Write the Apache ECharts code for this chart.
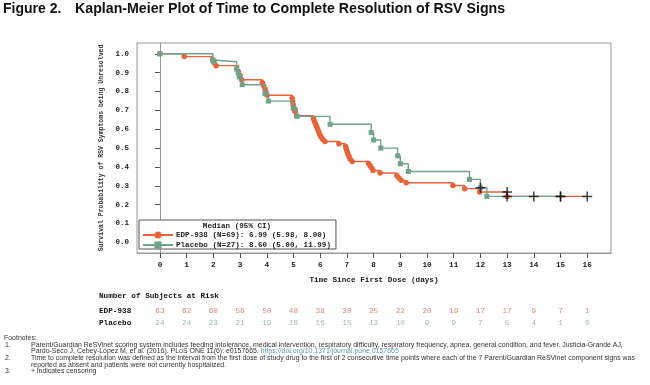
<!DOCTYPE html>
<html><head><meta charset="utf-8">
<script src="https://cdn.jsdelivr.net/npm/echarts@6/dist/echarts.min.js"></script>
<style>html,body{margin:0;padding:0;background:#fff}#c{width:650px;height:385px}</style>
</head><body><div id="c"></div>
<script>
// ---- data ----
const xTicks = [0,1,2,3,4,5,6,7,8,9,10,11,12,13,14,15,16];
const yTicks = [0,0.1,0.2,0.3,0.4,0.5,0.6,0.7,0.8,0.9,1.0];
const groups = ['EDP-938','Placebo'];
const legendLabels = ['EDP-938 (N=69): 6.99 (5.98, 8.00)', 'Placebo (N=27): 8.60 (5.00, 11.99)'];

const edpTime = [0,0.91,1.97,2.02,2.1,2.94,3.0,3.06,3.83,3.88,3.93,3.97,4.01,4.95,4.97,4.99,5.02,5.05,5.12,
  5.75,5.79,5.83,5.87,5.91,5.95,5.99,6.04,6.1,6.18,6.7,6.95,6.98,7.01,7.04,7.08,7.12,7.2,
  7.81,7.87,7.93,7.98,8.24,8.87,8.95,9.03,9.22,10.97,11.41,11.97,13.0];
const edpSurv = [1.0,0.985,0.97,0.954,0.937,0.906,0.885,0.862,0.848,0.832,0.815,0.797,0.78,0.764,0.747,0.73,0.712,0.695,0.672,
  0.655,0.641,0.627,0.613,0.598,0.584,0.57,0.558,0.546,0.535,0.523,0.509,0.495,0.482,0.469,0.456,0.442,0.429,
  0.418,0.406,0.394,0.381,0.368,0.353,0.341,0.329,0.316,0.302,0.285,0.267,0.244];
const edpEnd = 16;

const placeboTime = [0,1.98,2.02,2.87,2.93,2.97,3.08,3.93,4.06,4.99,5.14,6.37,7.91,8.0,8.27,8.9,9.0,9.3,11.59,12.0,12.24];
const placeboSurv = [1.0,0.967,0.958,0.92,0.898,0.877,0.836,0.79,0.749,0.711,0.668,0.626,0.583,0.543,0.5,0.459,0.417,0.376,0.334,0.29,0.244];
const placeboEnd = 15;

const edpCensorTime = [13,15,16];
const edpCensorSurv = [0.267,0.244,0.244];
const placeboCensorTime = [12,13,14,15];
const placeboCensorSurv = [0.29,0.244,0.244,0.244];

const edpAtRisk = [63,62,60,56,50,48,38,30,25,22,20,19,17,17,9,7,1];
const placeboAtRisk = [24,24,23,21,19,18,16,15,13,10,9,9,7,5,4,1,0];

const footnotes = [
  ['Footnotes:', ''],
  ['1.', 'Parent/Guardian ReSVinet scoring system includes feeding intolerance, medical intervention, respiratory difficulty, respiratory frequency, apnea, general condition, and fever. Justicia-Grande AJ,'],
  ['', 'Pardo-Seco J, Cebey-L\u00f3pez M, et al. (2016). PLoS ONE 11(6): e0157665. {u|https://doi.org/10.1371/journal.pone.0157665}'],
  ['2.', 'Time to complete resolution was defined as the interval from the first dose of study drug to the first of 2 consecutive time points where each of the 7 Parent/Guardian ReSVinet component signs was'],
  ['', 'reported as absent and patients were not currently hospitalized.'],
  ['3.', '+ indicates censoring']
];

// ---- styles ----
const ORANGE = '#e8633a', GREEN = '#6fa38a';
const MONO = '"Liberation Mono","DejaVu Sans Mono",monospace';
const SANS = '"Liberation Sans",Arial,sans-serif';
const XMIN = -0.86, XMAX = 16.89, YMIN = -0.056, YMAX = 1.057;
const FN = 6.95;

function curve(t, s, end) {
  const d = t.map((x, i) => [x, s[i]]);
  d.push({ value: [end, s[s.length - 1]], symbol: 'none' });
  return d;
}
function pts(t, s) { return t.map((x, i) => [x, s[i]]); }
const CROSS = 'path://M-0.9,-6H0.9V6H-0.9Z M-6,-0.9H6V0.9H-6Z';

const fnGraphics = [];
footnotes.forEach((f, i) => {
  const y = 338 + i * 6.7;
  if (i === 0) {
    fnGraphics.push({ type: 'text', x: 4, y: y, style: { text: f[0], font: FN + 'px ' + SANS, fill: '#333', verticalAlign: 'middle' } });
  } else {
    if (f[0]) fnGraphics.push({ type: 'text', x: 5, y: y, style: { text: f[0], font: FN + 'px ' + SANS, fill: '#333', verticalAlign: 'middle' } });
    fnGraphics.push({ type: 'text', x: 31, y: y, style: { text: f[1], font: FN + 'px ' + SANS, fill: '#333', verticalAlign: 'middle',
      rich: { u: { fontSize: FN, fontFamily: SANS, fill: '#5a9aa8' } } } });
  }
});

const chart = echarts.init(document.getElementById('c'), null, { renderer: 'canvas' });
chart.setOption({
  backgroundColor: '#fff',
  animation: false,
  grid: [
    { left: 137, right: 39, top: 43, height: 210, show: true, borderColor: '#999', borderWidth: 1 },
    { left: 137, right: 39, top: 305, height: 24 }
  ],
  xAxis: [
    { type: 'value', gridIndex: 0, min: XMIN, max: XMAX,
      name: 'Time Since First Dose (days)', nameLocation: 'middle', nameGap: 23,
      nameTextStyle: { fontFamily: MONO, fontSize: 7.7, fontWeight: 'bold', color: '#222' },
      axisLine: { show: true, onZero: false, lineStyle: { color: '#999' } },
      axisTick: { show: true, length: 5, customValues: xTicks, lineStyle: { color: '#555' } },
      axisLabel: { customValues: xTicks, margin: 8, fontFamily: MONO, fontSize: 7.7, fontWeight: 'bold', color: '#222', formatter: v => String(v) },
      splitLine: { show: false } },
    { type: 'value', gridIndex: 1, min: XMIN, max: XMAX, show: false }
  ],
  yAxis: [
    { type: 'value', gridIndex: 0, min: YMIN, max: YMAX,
      name: 'Survival Probability of RSV Symptoms being Unresolved', nameLocation: 'middle', nameGap: 31, nameRotate: 90,
      nameTextStyle: { fontFamily: MONO, fontSize: 6.5, fontWeight: 'bold', color: '#333' },
      axisLine: { show: true, lineStyle: { color: '#999' } },
      axisTick: { show: true, length: 5, customValues: yTicks, lineStyle: { color: '#555' } },
      axisLabel: { customValues: yTicks, margin: 8, fontFamily: MONO, fontSize: 7.5, fontWeight: 'bold', color: '#222', formatter: v => v.toFixed(1) },
      splitLine: { show: false } },
    { type: 'category', gridIndex: 1, data: groups, inverse: true,
      axisLine: { show: false }, axisTick: { show: false },
      axisLabel: { align: 'left', margin: 38, fontFamily: MONO, fontSize: 7.7, fontWeight: 'bold', color: '#111' } }
  ],
  legend: {
    data: groups, orient: 'vertical', left: 139, top: 220,
    padding: [11, 5, 0, 3], itemGap: 2, itemWidth: 30, itemHeight: 9,
    borderColor: '#555', borderWidth: 1, backgroundColor: '#fff',
    textStyle: { fontFamily: MONO, fontSize: 7.6, fontWeight: 'bold', color: '#222', padding: [0, 0, 0, -2] },
    formatter: n => legendLabels[groups.indexOf(n)]
  },
  series: [
    { name: groups[0], type: 'line', step: 'end', xAxisIndex: 0, yAxisIndex: 0,
      data: curve(edpTime, edpSurv, edpEnd), symbol: 'circle', symbolSize: 5.5, showAllSymbol: true,
      lineStyle: { color: ORANGE, width: 1.4 }, itemStyle: { color: ORANGE }, z: 2 },
    { name: groups[1], type: 'line', step: 'end', xAxisIndex: 0, yAxisIndex: 0,
      data: curve(placeboTime, placeboSurv, placeboEnd), symbol: 'rect', symbolSize: 5, showAllSymbol: true,
      lineStyle: { color: GREEN, width: 1.4 }, itemStyle: { color: GREEN }, z: 3 },
    { name: 'EDP censor', type: 'scatter', data: pts(edpCensorTime, edpCensorSurv), symbol: CROSS, symbolSize: 10,
      itemStyle: { color: '#111' }, z: 5 },
    { name: 'Placebo censor', type: 'scatter', data: pts(placeboCensorTime, placeboCensorSurv), symbol: CROSS, symbolSize: 10,
      itemStyle: { color: '#111' }, z: 5 },
    { name: 'EDP risk', type: 'scatter', xAxisIndex: 1, yAxisIndex: 1,
      data: xTicks.map((t, i) => [t, groups[0], edpAtRisk[i]]), symbolSize: 1, itemStyle: { color: 'rgba(0,0,0,0)' },
      label: { show: true, position: 'inside', formatter: p => String(p.value[2]), fontFamily: MONO, fontSize: 7.7, color: '#cf6a4c' } },
    { name: 'Placebo risk', type: 'scatter', xAxisIndex: 1, yAxisIndex: 1,
      data: xTicks.map((t, i) => [t, groups[1], placeboAtRisk[i]]), symbolSize: 1, itemStyle: { color: 'rgba(0,0,0,0)' },
      label: { show: true, position: 'inside', formatter: p => String(p.value[2]), fontFamily: MONO, fontSize: 7.7, color: '#84a796' } }
  ],
  graphic: [
    { type: 'text', x: 3, y: 9, style: { text: 'Figure 2.', font: 'bold 14px ' + SANS, fill: '#111', verticalAlign: 'middle' } },
    { type: 'text', x: 75, y: 9, style: { text: 'Kaplan-Meier Plot of Time to Complete Resolution of RSV Signs', font: 'bold 14.2px ' + SANS, fill: '#111', verticalAlign: 'middle' } },
    { type: 'text', x: 237, y: 226, z: 100, style: { text: 'Median (95% CI)', font: 'bold 7.6px ' + MONO, fill: '#222', align: 'center', verticalAlign: 'middle' } },
    { type: 'text', x: 99, y: 296.5, style: { text: 'Number of Subjects at Risk', font: 'bold 7.7px ' + MONO, fill: '#111', verticalAlign: 'middle' } }
  ].concat(fnGraphics)
});
</script>
</body></html>
